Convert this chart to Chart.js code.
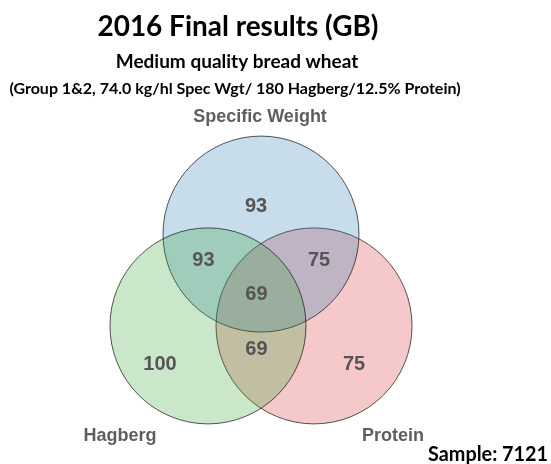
<!DOCTYPE html>
<html>
<head>
<meta charset="utf-8">
<script src="https://cdn.jsdelivr.net/npm/chart.js@4/dist/chart.umd.min.js"></script>
<style>
  html, body { margin: 0; padding: 0; background: #ffffff; }
  canvas { display: block; }
</style>
</head>
<body>
<canvas id="venn" width="551" height="464"></canvas>
<script>
// Dados do diagrama (três conjuntos e as sete regiões)
const setNames = ['Specific Weight', 'Hagberg', 'Protein'];
const regionSets = [[0], [0, 1], [0, 2], [0, 1, 2], [1], [1, 2], [2]];
const regionValues = [93, 93, 75, 69, 100, 69, 75];
const sampleSize = 7121;

// Geometria: raio = 1 unidade, centros num triângulo equilátero
const centerDistance = 1.082;
const pxPerUnit = 98;
const originPx = { x: 261, y: 295.3 };

// Posição dos textos em unidades do raio, relativa ao centro do triângulo
const regionLabelPos = [
    [-0.051, 0.906], [-0.587, 0.360], [0.592, 0.360], [-0.046, 0.008],
    [-1.031, -0.701], [-0.046, -0.558], [0.949, -0.701]
];
const setLabelPos = [[-0.010, 1.824], [-1.439, -1.436], [1.347, -1.436]];

// Ordem de desenho dos círculos (Protein por baixo, Hagberg por cima)
const drawOrder = [2, 0, 1];

const h = centerDistance / Math.sqrt(3);
const centers = [
    { x: 0, y: h },
    { x: -centerDistance / 2, y: -h / 2 },
    { x: centerDistance / 2, y: -h / 2 }
];

const fills = ['rgba(31,119,180,0.25)', 'rgba(44,160,44,0.25)', 'rgba(214,39,40,0.25)'];

function raioPx(chart) {
    const s = chart.scales.x;
    return s.getPixelForValue(1) - s.getPixelForValue(0);
}

const textosPlugin = {
    id: 'textos',
    afterDatasetsDraw(chart) {
        const ctx = chart.ctx;
        const sx = chart.scales.x, sy = chart.scales.y;
        ctx.save();
        ctx.textAlign = 'center';
        ctx.textBaseline = 'middle';

        // Números das regiões
        ctx.fillStyle = '#555555';
        ctx.font = 'bold 20px "Liberation Sans", Arial, sans-serif';
        regionValues.forEach((v, i) => {
            ctx.fillText(String(v), sx.getPixelForValue(regionLabelPos[i][0]), sy.getPixelForValue(regionLabelPos[i][1]));
        });

        // Nomes dos conjuntos
        ctx.fillStyle = '#5e5e5e';
        ctx.font = 'bold 18px "Liberation Sans", Arial, sans-serif';
        setNames.forEach((n, i) => {
            ctx.fillText(n, sx.getPixelForValue(setLabelPos[i][0]), sy.getPixelForValue(setLabelPos[i][1]));
        });

        // Títulos
        ctx.fillStyle = '#000000';
        ctx.textBaseline = 'alphabetic';
        ctx.font = 'bold 28px Lato, "Open Sans", sans-serif';
        ctx.fillText('2016 Final results (GB)', 238, 36, 281);
        ctx.font = 'bold 19px Lato, "Open Sans", sans-serif';
        ctx.fillText('Medium quality bread wheat', 237, 68, 245);
        ctx.font = 'bold 16px Lato, "Open Sans", sans-serif';
        ctx.fillText('(Group 1&2, 74.0 kg/hl Spec Wgt/ 180 Hagberg/12.5% Protein)', 235, 94, 456);
        ctx.textAlign = 'right';
        ctx.font = 'bold 20px Lato, "Open Sans", sans-serif';
        ctx.fillText('Sample: ' + sampleSize, 548, 461, 120);
        ctx.restore();
    }
};

new Chart(document.getElementById('venn'), {
    type: 'scatter',
    data: {
        datasets: [{
            data: drawOrder.map(i => centers[i]),
            backgroundColor: drawOrder.map(i => fills[i]),
            borderColor: 'rgba(30,30,30,0.75)',
            borderWidth: 1,
            pointRadius: (c) => raioPx(c.chart),
            pointHoverRadius: (c) => raioPx(c.chart)
        }]
    },
    options: {
        responsive: false,
        animation: false,
        events: [],
        layout: { padding: 0 },
        plugins: { legend: { display: false }, tooltip: { enabled: false }, title: { display: false } },
        scales: {
            x: { type: 'linear', display: false, min: -originPx.x / pxPerUnit, max: (551 - originPx.x) / pxPerUnit },
            y: { type: 'linear', display: false, min: -(464 - originPx.y) / pxPerUnit, max: originPx.y / pxPerUnit }
        }
    },
    plugins: [textosPlugin]
});
</script>
</body>
</html>
